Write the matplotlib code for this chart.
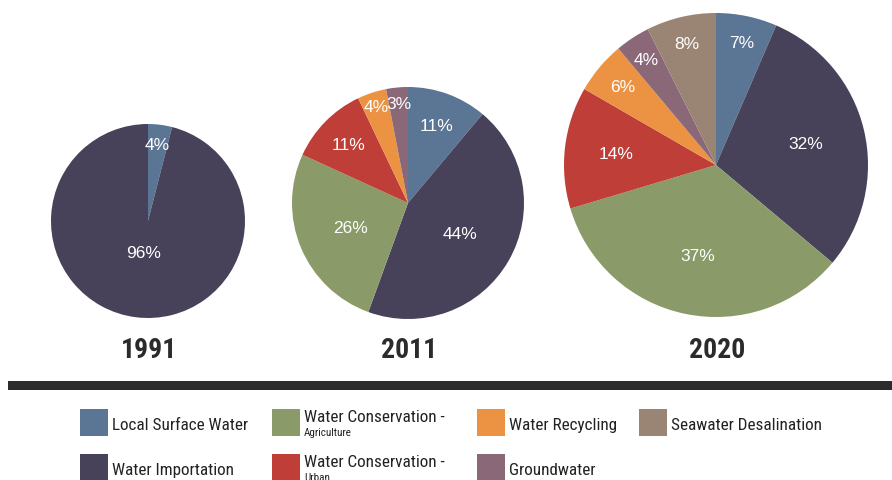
import matplotlib
matplotlib.use("Agg")
import matplotlib.pyplot as plt
import matplotlib.patches as mpatches
import numpy as np

categories = ["Local Surface Water", "Water Importation", "Water Conservation - Agriculture",
              "Water Conservation - Urban", "Water Recycling", "Groundwater", "Seawater Desalination"]
colors = ["#5b7594", "#474159", "#8a9a68", "#bf3f38", "#ec9343", "#8a6878", "#9a8474"]
years = ["1991", "2011", "2020"]
values_1991 = [4, 96, 0, 0, 0, 0, 0]
values_2011 = [11, 44, 26, 11, 4, 3, 0]
values_2020 = [7, 32, 37, 14, 6, 4, 8]

# layout (pixel coords, y from top)
centers = [(148, 222), (408, 204), (716, 166)]
radii = [97, 116, 152]
label_fracs = [
    [0.79, 0.33, 0, 0, 0, 0, 0],
    [0.71, 0.52, 0.54, 0.72, 0.88, 0.86, 0],
    [0.82, 0.61, 0.61, 0.66, 0.80, 0.83, 0.82],
]

W, H = 892, 481
fig = plt.figure(figsize=(W / 100, H / 100), dpi=100)
ax = fig.add_axes([0, 0, 1, 1])

PIEFONT = ["Liberation Sans", "DejaVu Sans"]
NARROW = ["Roboto Condensed", "Archivo Narrow", "Liberation Sans", "DejaVu Sans"]

all_vals = [values_1991, values_2011, values_2020]
for k, vals in enumerate(all_vals):
    cx, cy = centers[k]
    r = radii[k]
    idx = [i for i, v in enumerate(vals) if v > 0]
    wedges, _ = ax.pie([vals[i] for i in idx], colors=[colors[i] for i in idx],
                       startangle=90, counterclock=False, center=(cx, H - cy), radius=r,
                       frame=True, wedgeprops=dict(linewidth=0))
    for w, i in zip(wedges, idx):
        ang = np.deg2rad((w.theta1 + w.theta2) / 2)
        f = label_fracs[k][i]
        ax.text(cx + f * r * np.cos(ang), H - cy + f * r * np.sin(ang), f"{vals[i]}%",
                color="white", fontsize=12.5, ha="center", va="center", family=PIEFONT)
    ax.text(cx + 1, H - 351, years[k], fontsize=20, fontweight="bold", color="#2b2b2b",
            ha="center", va="center", family=NARROW)

ax.set_xlim(0, W)
ax.set_ylim(0, H)
ax.set_aspect("auto")
ax.axis("off")

# divider bar
ax.add_patch(mpatches.Rectangle((8, H - 391), W - 8, 9, color="#2c2c2c", lw=0))

# legend
col_x = [80, 272, 477, 639]
row_y = [410, 455]
legend_pos = [(0, 0), (0, 1), (1, 0), (1, 1), (2, 0), (2, 1), (3, 0)]
for i, name in enumerate(categories):
    c, rw = legend_pos[i]
    x0, y0 = col_x[c], row_y[rw]
    ax.add_patch(mpatches.Rectangle((x0, H - y0 - 27), 28, 27, color=colors[i], lw=0))
    tx = x0 + 32
    if " - " in name:
        main, sub = name.split(" - ")
        ax.text(tx, H - (y0 + 8), main + " -", fontsize=12.3, ha="left", va="center",
                color="#222222", family=NARROW)
        ax.text(tx, H - (y0 + 23), sub, fontsize=8, ha="left", va="center",
                color="#222222", family=NARROW)
    else:
        ax.text(tx, H - (y0 + 16), name, fontsize=12.3, ha="left", va="center",
                color="#222222", family=NARROW)

fig.savefig("out.png", dpi=100, facecolor="white")
